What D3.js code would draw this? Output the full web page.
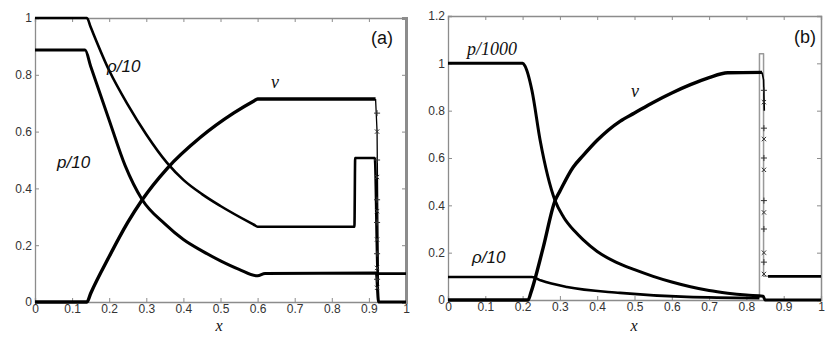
<!DOCTYPE html>
<html>
<head>
<meta charset="utf-8">
<script src="https://cdn.jsdelivr.net/npm/d3@7"></script>
<style>
  body { margin: 0; background: #fff; }
  .tick text { font-family: "Liberation Sans", Arial, sans-serif; font-size: 12px; fill: #333; }
  .ax path, .ax line { stroke: #8c8c8c; }
</style>
</head>
<body>
<div id="chart"></div>
<script>
// panel (a) series, [x, value]
var aRho = [[0,1],[0.14,1],[0.15,0.968],[0.2,0.815],[0.25,0.695],[0.3,0.59],[0.356,0.49],[0.4,0.43],[0.45,0.38],[0.5,0.338],[0.59,0.272],[0.6,0.265],[0.861,0.265],[0.863,0.507],[0.916,0.507],[0.924,0.1],[1,0.1]];
var aP = [[0,0.887],[0.135,0.887],[0.15,0.83],[0.2,0.64],[0.243,0.48],[0.289,0.36],[0.35,0.275],[0.4,0.22],[0.45,0.18],[0.5,0.145],[0.55,0.115],[0.6,0.092],[0.62,0.1],[0.92,0.102],[0.926,0],[1,0]];
var aV = [[0,0],[0.14,0],[0.15,0.03],[0.2,0.16],[0.25,0.28],[0.289,0.36],[0.356,0.47],[0.446,0.58],[0.535,0.665],[0.59,0.708],[0.6,0.715],[0.918,0.715]];
var aVDrop = [[0.918,0.715],[0.922,0.6],[0.926,0]];
var aShockMarks = [0.665, 0.6, 0.5, 0.44, 0.36, 0.32, 0.28, 0.22, 0.17, 0.12, 0.08, 0.05];

// panel (b) series
var bP = [[0,1],[0.2,1],[0.206,0.99],[0.225,0.886],[0.247,0.675],[0.287,0.42],[0.31,0.35],[0.34,0.29],[0.362,0.255],[0.4,0.205],[0.45,0.16],[0.5,0.128],[0.55,0.1],[0.6,0.076],[0.65,0.056],[0.7,0.04],[0.75,0.029],[0.8,0.021],[0.845,0.016],[0.85,0],[1,0]];
var bRho = [[0,0.097],[0.225,0.097],[0.25,0.082],[0.319,0.055],[0.461,0.03],[0.64,0.013],[0.835,0.008]];
var bRhoSpike = [[0.835,0.008],[0.835,1.04],[0.846,1.04],[0.846,0.1],[0.858,0.1]];
var bRhoRight = [[0.858,0.1],[1,0.1]];
var bV = [[0,0],[0.215,0],[0.222,0.03],[0.255,0.22],[0.287,0.42],[0.3,0.46],[0.335,0.56],[0.362,0.61],[0.4,0.675],[0.461,0.755],[0.5,0.79],[0.55,0.835],[0.6,0.875],[0.65,0.91],[0.7,0.94],[0.75,0.96],[0.842,0.962]];
var bVDrop = [[0.842,0.962],[0.846,0.93],[0.848,0.8]];
var bShockMarks = [0.886, 0.836, 0.726, 0.68, 0.6, 0.55, 0.42, 0.37, 0.3, 0.2, 0.16, 0.11];

var xTicks = d3.range(0, 11).map(function(i){ return i / 10; });
var aYTicks = d3.range(0, 6).map(function(i){ return i / 5; });
var bYTicks = d3.range(0, 7).map(function(i){ return i / 5; });

var width = 830, height = 341;
var svg = d3.select("#chart").append("svg")
    .attr("width", width)
    .attr("height", height);
svg.append("rect").attr("width", width).attr("height", height).attr("fill", "#fff");

function panel(opt) {
    var x = d3.scaleLinear().domain([0, 1]).range([opt.left, opt.right]);
    var y = d3.scaleLinear().domain([0, opt.ymax]).range([opt.bottom, opt.top]);
    var fmt = d3.format("~g");

    svg.append("g").attr("class", "ax")
        .attr("transform", "translate(0," + opt.bottom + ")")
        .call(d3.axisBottom(x).tickValues(xTicks).tickFormat(fmt).tickSize(-4).tickPadding(2));
    svg.append("g").attr("class", "ax")
        .attr("transform", "translate(0," + opt.top + ")")
        .call(d3.axisTop(x).tickValues(xTicks).tickFormat("").tickSize(-4));
    svg.append("g").attr("class", "ax")
        .attr("transform", "translate(" + opt.left + ",0)")
        .call(d3.axisLeft(y).tickValues(opt.yticks).tickFormat(fmt).tickSize(-4).tickPadding(3));
    var r = svg.append("g").attr("class", "ax")
        .attr("transform", "translate(" + opt.right + ",0)")
        .call(d3.axisRight(y).tickValues(opt.yticks).tickFormat("").tickSize(-4));
    r.select(".domain").attr("stroke-width", opt.rightW).attr("stroke", "#aaa");
    svg.selectAll(".ax .domain").attr("stroke-width", function(){ return this.getAttribute("stroke-width") || 1.3; });

    // monotone keeps the scan's soft corners without overshooting
    opt.series.forEach(function(s) {
        var line = d3.line()
            .curve(s.straight ? d3.curveLinear : d3.curveMonotoneX)
            .x(function(d){ return x(d[0]); })
            .y(function(d){ return y(d[1]); });
        svg.append("path").datum(s.data)
            .attr("d", line)
            .attr("fill", "none")
            .attr("stroke", s.color || "#000")
            .attr("stroke-width", s.w || 3)
            .attr("stroke-linejoin", "round");
    });

    // little +/x markers sitting on the shock
    svg.append("g").selectAll("path")
        .data(opt.marks).enter().append("path")
        .attr("transform", function(d){ return "translate(" + x(opt.markX) + "," + y(d) + ")"; })
        .attr("d", function(d, i){ return d3.symbol(i % 2 ? d3.symbolTimes : d3.symbolPlus, 14)(); })
        .attr("fill", "none")
        .attr("stroke", "#333")
        .attr("stroke-width", 1);

    opt.labels.forEach(function(l) {
        svg.append("text")
            .attr("x", l.x).attr("y", l.y)
            .attr("text-anchor", l.anchor || "start")
            .attr("font-family", l.family || "Liberation Sans, Arial, sans-serif")
            .attr("font-style", l.italic ? "italic" : "normal")
            .attr("font-size", l.size)
            .attr("fill", "#111")
            .text(l.text);
    });
}

panel({
    left: 35, right: 406, top: 18, bottom: 302, ymax: 1, yticks: aYTicks, rightW: 3,
    series: [
        {data: aRho, w: 2.6},
        {data: aP, w: 3},
        {data: aV, w: 3.4},
        {data: aVDrop, w: 1.3, straight: true}
    ],
    marks: aShockMarks, markX: 0.922,
    labels: [
        {text: "ρ/10", x: 107, y: 72, size: 17, italic: true},
        {text: "p/10", x: 57, y: 168, size: 17, italic: true},
        {text: "v", x: 271, y: 88, size: 18, italic: true, family: "Liberation Serif, serif"},
        {text: "(a)", x: 393, y: 44, size: 18, anchor: "end"},
        {text: "x", x: 219, y: 331, size: 16, italic: true, anchor: "middle", family: "Liberation Serif, serif"}
    ]
});

panel({
    left: 448, right: 821, top: 16, bottom: 300, ymax: 1.2, yticks: bYTicks, rightW: 1.5,
    series: [
        {data: bRhoSpike, w: 1.5, color: "#999", straight: true},
        {data: bRho, w: 2.6},
        {data: bRhoRight, w: 2.6, straight: true},
        {data: bP, w: 3},
        {data: bV, w: 3.4},
        {data: bVDrop, w: 1.6, straight: true}
    ],
    marks: bShockMarks, markX: 0.847,
    labels: [
        {text: "p/1000", x: 467, y: 55, size: 18, italic: true, family: "Liberation Serif, serif"},
        {text: "ρ/10", x: 472, y: 263, size: 17, italic: true},
        {text: "v", x: 631, y: 97, size: 18, italic: true, family: "Liberation Serif, serif"},
        {text: "(b)", x: 816, y: 43, size: 18, anchor: "end"},
        {text: "x", x: 634, y: 331, size: 16, italic: true, anchor: "middle", family: "Liberation Serif, serif"}
    ]
});
</script>
</body>
</html>
